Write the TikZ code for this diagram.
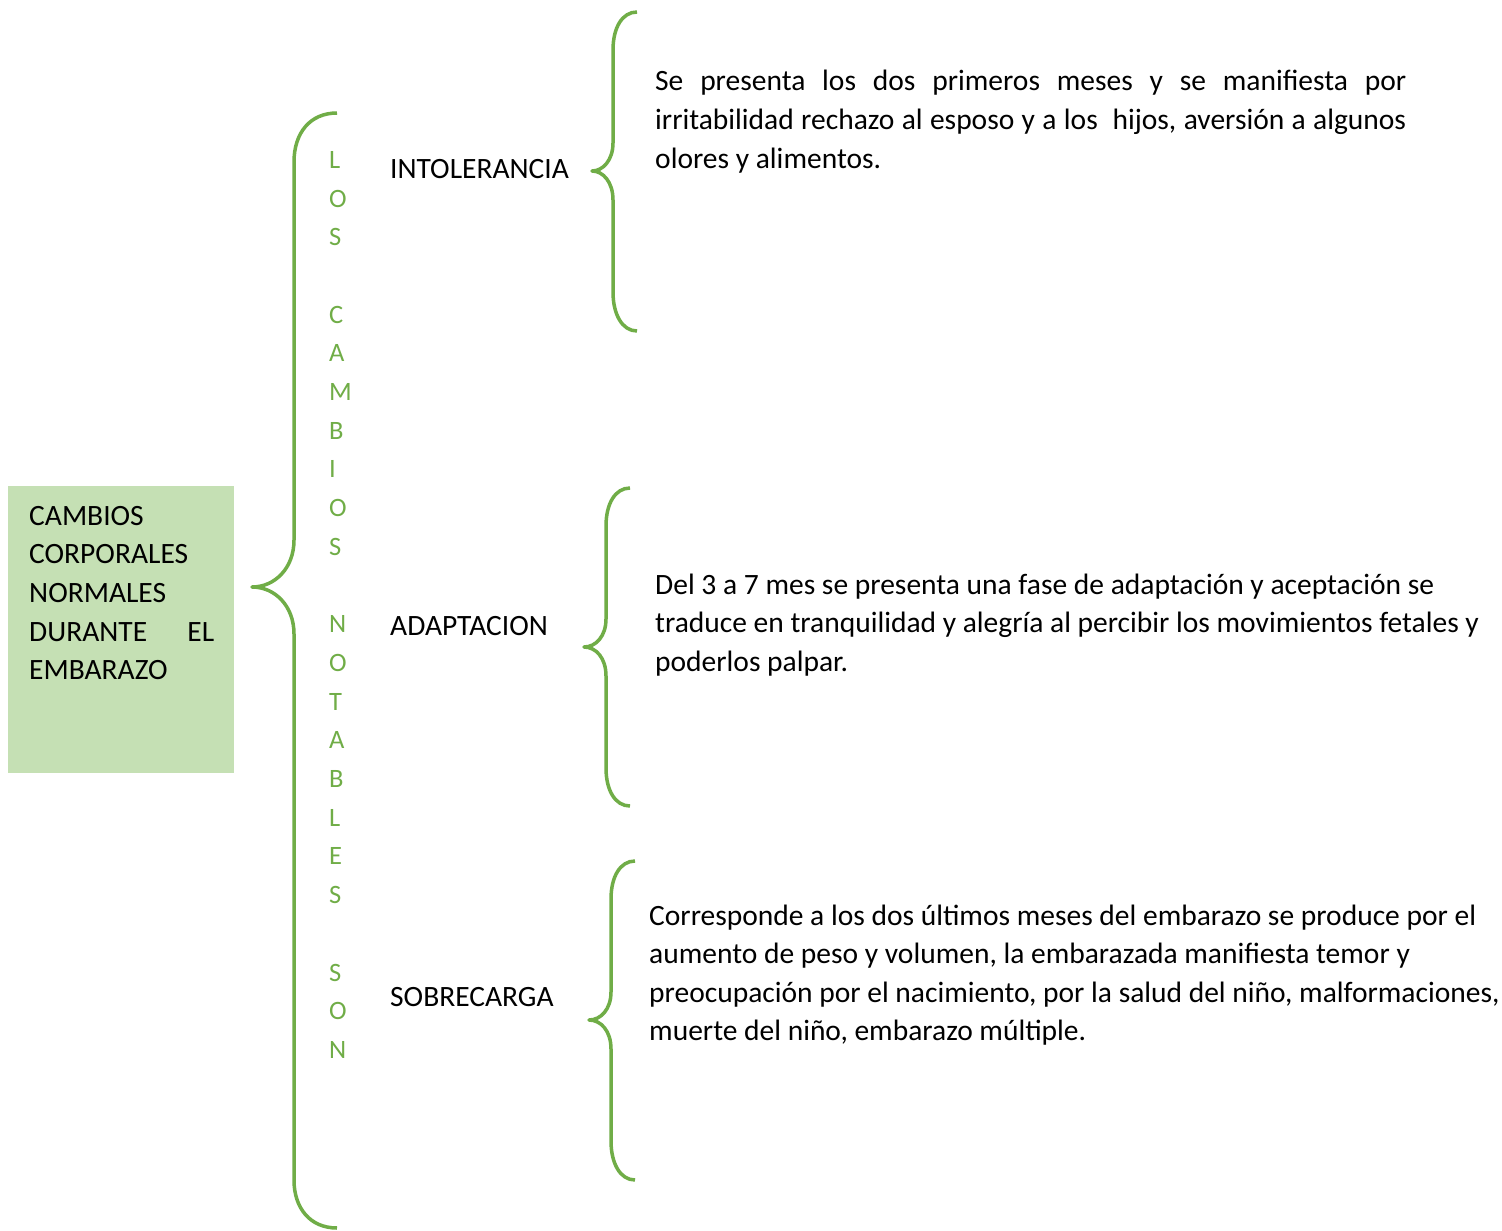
\documentclass[tikz,border=0pt]{standalone}
\usepackage{fontspec}
\setmainfont{Carlito}
\definecolor{brgreen}{HTML}{70AD47}
\definecolor{boxgreen}{HTML}{C5E0B4}
\begin{document}
\begin{tikzpicture}[x=1pt,y=-1pt,
  txt/.style={anchor=base west,inner sep=0pt,font=\fontsize{29.5}{38.7}\selectfont,text=black},
  lett/.style={anchor=base west,inner sep=0pt,font=\fontsize{26.5}{38.7}\selectfont,text=brgreen},
  bracestyle/.style={draw=brgreen,line width=3.5pt,line cap=butt,line join=round}]
\useasboundingbox (0,0) rectangle (1502,1231);
\fill[white] (0,0) rectangle (1502,1231);
% box
\node[fill=boxgreen,minimum width=226pt,minimum height=287pt,inner sep=0pt,anchor=north west] (box) at (8,486) {};
\node[txt] (b1) at (29,525) {CAMBIOS};
\node[txt] (b2) at (29,563.7) {CORPORALES};
\node[txt] (b3) at (29,602.4) {NORMALES};
\node[txt] (b4) at (29,641.1) {\makebox[185pt][s]{DURANTE EL}};
\node[txt] (b5) at (29,679.8) {EMBARAZO};
% big brace
\coordinate (bigtip) at (252,587);
\draw[bracestyle] (337,113) .. controls (310,113) and (294,133) .. (294,162) -- (294,540)
  .. controls (294,568) and (275,587) .. (bigtip) .. controls (275,587) and (294,606) .. (294,634)
  -- (294,1180) .. controls (294,1208) and (310,1228) .. (337,1228);
% vertical letters
\foreach \l [count=\i from 0] in {L,O,S,{},C,A,M,B,I,O,S,{},N,O,T,A,B,L,E,S,{},S,O,N}{
  \node[lett] (v\i) at (329,168.3+38.7*\i) {\l};
}
% categories
\node[txt] (c1) at (390,178.3) {INTOLERANCIA};
\node[txt] (c2) at (390,635.5) {ADAPTACION};
\node[txt] (c3) at (390,1006.5) {SOBRECARGA};
% brace 1
\coordinate (t1) at (592,171);
\draw[bracestyle] (637,12) .. controls (622,12) and (613,28) .. (613,50) -- (613,143)
  .. controls (613,160) and (603,171) .. (t1) .. controls (603,171) and (613,182) .. (613,200)
  -- (613,292) .. controls (613,314) and (622,331) .. (637,331);
% brace 2
\coordinate (t2) at (584,647);
\draw[bracestyle] (630,488) .. controls (615,488) and (606,504) .. (606,526) -- (606,619)
  .. controls (606,636) and (596,647) .. (t2) .. controls (596,647) and (606,658) .. (606,676)
  -- (606,768) .. controls (606,790) and (615,806) .. (630,806);
% brace 3
\coordinate (t3) at (589,1020);
\draw[bracestyle] (635,861) .. controls (620,861) and (611,877) .. (611,899) -- (611,992)
  .. controls (611,1009) and (601,1020) .. (t3) .. controls (601,1020) and (611,1031) .. (611,1049)
  -- (611,1141) .. controls (611,1163) and (620,1180) .. (635,1180);
% paragraph 1
\node[txt] (p11) at (655,91) {\makebox[751pt][s]{Se presenta los dos primeros meses y se manifiesta por}};
\node[txt] (p12) at (655,129.5) {\makebox[751pt][s]{irritabilidad rechazo al esposo y a los\ \ hijos, aversión a algunos}};
\node[txt] (p13) at (655,168) {olores y alimentos.};
% paragraph 2
\node[txt] (p21) at (655,594) {Del 3 a 7 mes se presenta una fase de adaptación y aceptación se};
\node[txt] (p22) at (655,632.5) {traduce en tranquilidad y alegría al percibir los movimientos fetales y};
\node[txt] (p23) at (655,671) {poderlos palpar.};
% paragraph 3
\node[txt] (p31) at (649,925) {Corresponde a los dos últimos meses del embarazo se produce por el};
\node[txt] (p32) at (649,963.5) {aumento de peso y volumen, la embarazada manifiesta temor y};
\node[txt] (p33) at (649,1002) {preocupación por el nacimiento, por la salud del niño, malformaciones,};
\node[txt] (p34) at (649,1040.5) {muerte del niño, embarazo múltiple.};
\end{tikzpicture}
\end{document}
